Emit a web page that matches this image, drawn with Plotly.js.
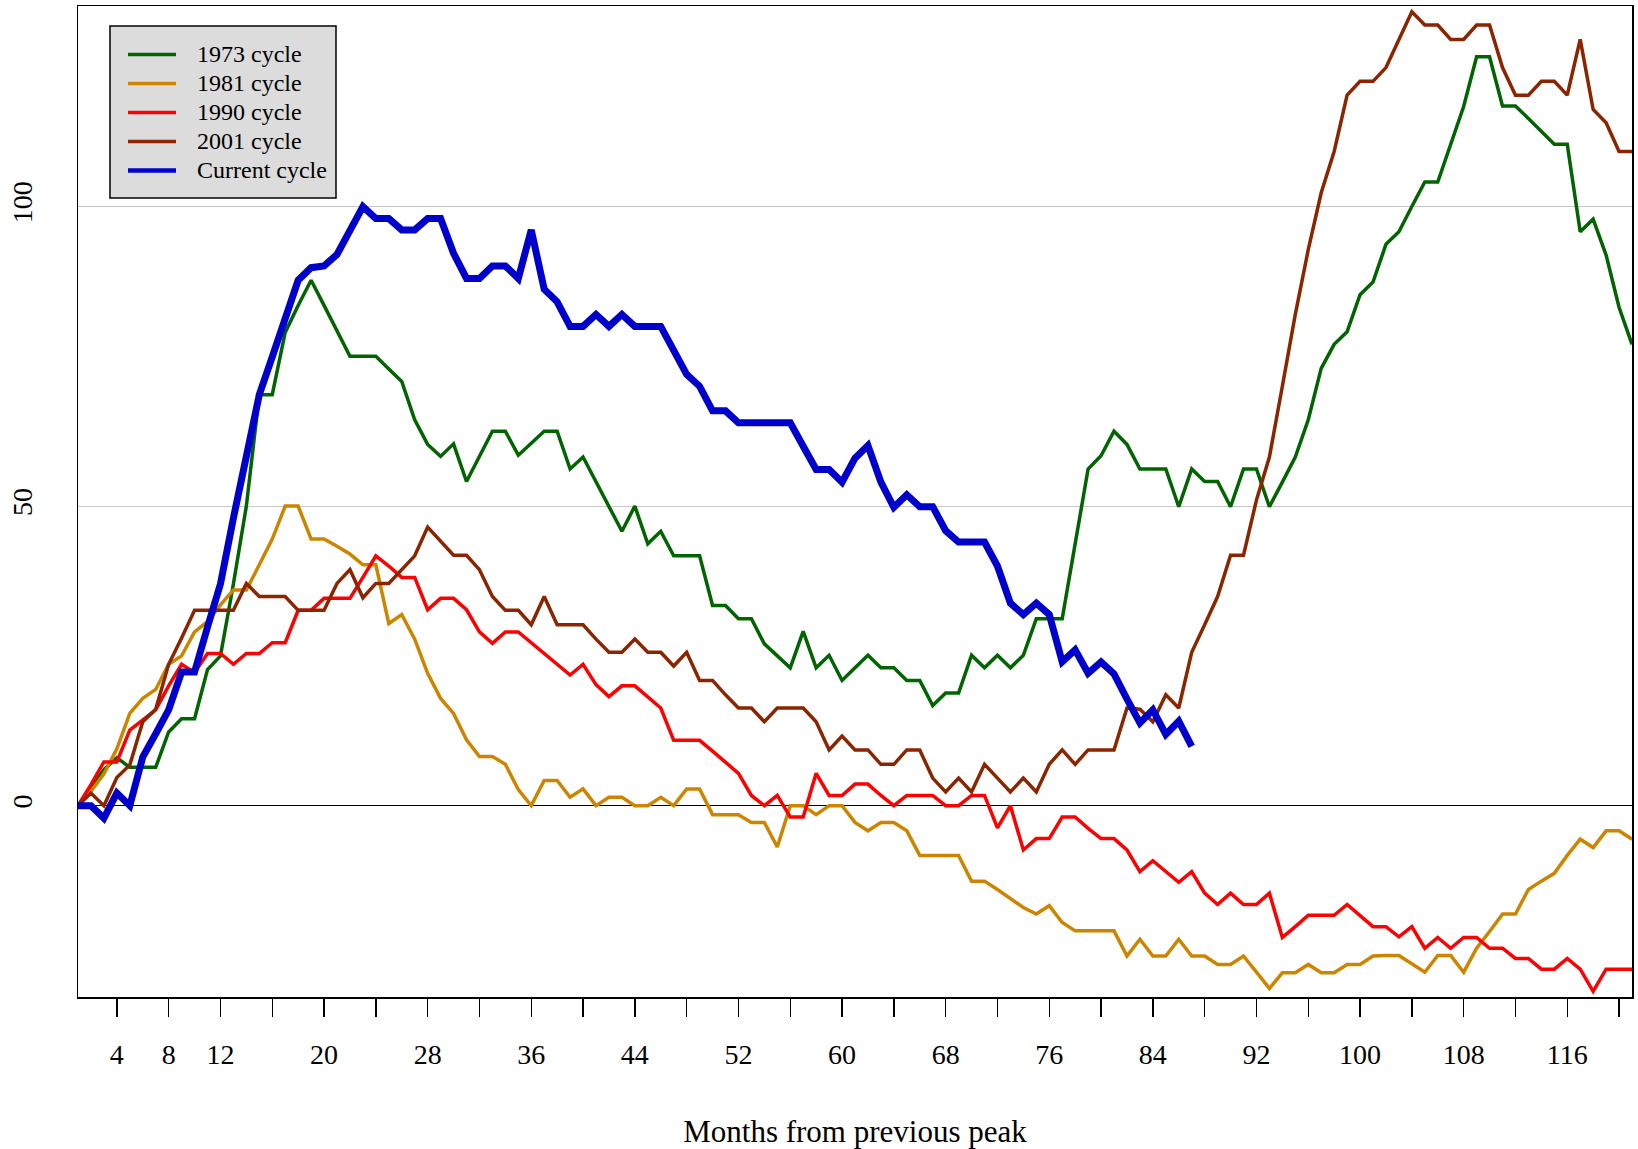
<!DOCTYPE html>
<html>
<head>
<meta charset="utf-8">
<script src="https://cdn.plot.ly/plotly-3.0.1.min.js"></script>
<style>
  html, body { margin: 0; padding: 0; background: #ffffff; }
  #chart { width: 1638px; height: 1149px; }
</style>
</head>
<body>
<div id="chart"></div>
<script>
// ---- Data (months from previous peak, index values) ----
const seriesNames = ["1973 cycle", "1981 cycle", "1990 cycle", "2001 cycle", "Current cycle"];

const cycle1973 = [0, 3, 6, 8, 6.4, 6.4, 6.4, 12.3, 14.5, 14.5,
  22.7, 25, 37, 50, 68.6, 68.6, 79, 83.5, 87.7, 83.5,
  79.3, 75, 75, 75, 72.9, 70.8, 64.4, 60.3, 58.3, 60.4,
  54.1, 58.3, 62.5, 62.5, 58.5, 60.5, 62.5, 62.5, 56.2, 58.2,
  54.1, 50, 45.8, 50, 43.7, 45.8, 41.7, 41.7, 41.7, 33.4,
  33.4, 31.2, 31.2, 27, 25, 23, 29.1, 23, 25.1, 20.9,
  23, 25.1, 23, 23, 20.9, 20.9, 16.7, 18.8, 18.8, 25.1,
  23, 25.1, 23, 25.1, 31.2, 31.2, 31.2, 43.7, 56.2, 58.4,
  62.5, 60.3, 56.2, 56.2, 56.2, 49.9, 56.2, 54.1, 54.1, 49.9,
  56.2, 56.2, 49.9, 54, 58.2, 64.4, 73, 77, 79.1, 85.3,
  87.4, 93.7, 95.8, 100, 104.1, 104.1, 110.4, 116.7, 125, 125,
  116.8, 116.8, 114.7, 112.5, 110.4, 110.4, 95.8, 97.9, 91.9, 83.2,
  77];

const cycle1981 = [0, 2.4, 5.3, 9.5, 15.4, 17.9, 19.4, 23.6, 25, 29,
  30.7, 33.5, 36, 36, 40.2, 44.5, 50, 50, 44.5, 44.5,
  43.3, 42, 40.2, 40.2, 30.4, 31.9, 27.8, 22.1, 17.9, 15.4,
  11, 8.2, 8.2, 6.9, 2.7, 0, 4.2, 4.2, 1.4, 2.8,
  0, 1.4, 1.4, 0, 0, 1.4, 0, 2.8, 2.8, -1.5,
  -1.5, -1.5, -2.8, -2.8, -6.9, 0, 0, -1.5, 0, 0,
  -2.8, -4.2, -2.8, -2.8, -4.2, -8.3, -8.3, -8.3, -8.3, -12.6,
  -12.6, -14, -15.5, -17, -18.1, -16.7, -19.5, -20.9, -20.9, -20.9,
  -20.9, -25.1, -22.3, -25.1, -25.1, -22.3, -25.1, -25.1, -26.5, -26.5,
  -25.1, -27.8, -30.5, -27.9, -27.9, -26.5, -27.9, -27.9, -26.5, -26.5,
  -25.1, -25, -25, -26.4, -27.8, -25, -25, -27.8, -23.8, -21,
  -18.1, -18.1, -14, -12.6, -11.3, -8.3, -5.6, -7, -4.2, -4.2,
  -5.6];

const cycle1990 = [0, 3.5, 7.3, 7.3, 12.6, 14.3, 16, 20, 23.6, 22.2,
  25.4, 25.4, 23.6, 25.4, 25.4, 27.2, 27.2, 32.6, 32.6, 34.6,
  34.6, 34.6, 38.1, 41.7, 40, 38.1, 38.1, 32.7, 34.6, 34.6,
  32.7, 29, 27.1, 29, 29, 27.2, 25.4, 23.6, 21.8, 23.6,
  20.2, 18.2, 20, 20, 18.2, 16.3, 10.9, 10.9, 10.9, 9.1,
  7.2, 5.4, 1.7, 0, 1.7, -1.9, -1.9, 5.4, 1.7, 1.7,
  3.6, 3.6, 1.7, 0, 1.7, 1.7, 1.7, 0, 0, 1.7,
  1.7, -3.7, 0, -7.4, -5.5, -5.5, -1.9, -1.9, -3.8, -5.5,
  -5.5, -7.4, -11, -9.2, -11, -12.8, -11, -14.6, -16.5, -14.6,
  -16.5, -16.5, -14.6, -22, -20.2, -18.3, -18.3, -18.3, -16.5, -18.3,
  -20.2, -20.2, -21.9, -20.2, -23.8, -22, -23.8, -22, -22, -23.8,
  -23.8, -25.5, -25.5, -27.3, -27.3, -25.5, -27.3, -31, -27.3, -27.3,
  -27.3];

const cycle2001 = [0, 2.1, 0, 4.7, 6.8, 14, 16.1, 23.6, 28, 32.6,
  32.6, 32.6, 32.6, 37.1, 34.9, 34.9, 34.9, 32.6, 32.6, 32.6,
  37.1, 39.4, 34.7, 37.1, 37.1, 39.4, 41.7, 46.5, 44.2, 41.8,
  41.8, 39.4, 34.9, 32.6, 32.6, 30.2, 34.9, 30.2, 30.2, 30.2,
  27.8, 25.6, 25.6, 27.8, 25.6, 25.6, 23.3, 25.6, 20.9, 20.9,
  18.5, 16.3, 16.3, 14, 16.3, 16.3, 16.3, 14, 9.3, 11.6,
  9.3, 9.3, 6.9, 6.9, 9.3, 9.3, 4.6, 2.3, 4.6, 2.3,
  6.9, 4.6, 2.3, 4.6, 2.3, 6.9, 9.3, 6.9, 9.3, 9.3,
  9.3, 16.3, 16.1, 14, 18.5, 16.3, 25.6, 30.2, 34.9, 41.8,
  41.8, 51, 58.2, 70, 82, 92.8, 102.3, 109.2, 118.6, 120.9,
  120.9, 123.2, 127.9, 132.5, 130.3, 130.3, 127.9, 127.9, 130.3, 130.3,
  123.2, 118.6, 118.6, 120.9, 120.9, 118.6, 127.9, 116.2, 114, 109.2,
  109.2];

const currentCycle = [0, 0, -2.1, 2.1, 0, 8.1, 12, 16, 22.3, 22.3,
  29.8, 37, 48, 58.5, 68.6, 74.9, 80.9, 87.7, 89.8, 90.1,
  92, 96, 100, 98, 98, 96.1, 96.1, 98, 98, 92.2,
  88, 88, 90.1, 90.1, 88, 96.1, 86.2, 84.1, 80, 80,
  82, 80, 82, 80, 80, 80, 76, 72, 70, 65.9,
  65.9, 63.9, 63.9, 63.9, 63.9, 63.9, 60, 56.1, 56.1, 54,
  58, 60.1, 54, 49.8, 51.9, 49.9, 49.9, 45.9, 44, 44,
  44, 40, 33.8, 31.9, 33.8, 31.9, 24, 26, 22.1, 24,
  22, 17.8, 13.8, 16, 11.9, 14.1, 9.9];

const xTickVals = [4, 8, 12, 16, 20, 24, 28, 32, 36, 40, 44, 48, 52, 56, 60,
  64, 68, 72, 76, 80, 84, 88, 92, 96, 100, 104, 108, 112, 116, 120];
const xTickText = ["4", "8", "12", "", "20", "", "28", "", "36", "", "44", "", "52", "", "60",
  "", "68", "", "76", "", "84", "", "92", "", "100", "", "108", "", "116", ""];
const yTickVals = [0, 50, 100];
const yTickText = ["0", "50", "100"];

// ---- Styling ----
const colors = ["#006400", "#CD8500", "#FF0000", "#8B2500", "#0000CD"];
const widths = [3.5, 3.5, 3.5, 3.5, 7];
const values = [cycle1973, cycle1981, cycle1990, cycle2001, currentCycle];

const traces = values.map((v, k) => ({
  type: "scatter",
  mode: "lines",
  name: seriesNames[k],
  x: v.map((_, i) => i + 1),
  y: v,
  line: { color: colors[k], width: widths[k] },
  hoverinfo: "x+y+name",
  showlegend: false
}));

const serif = "Liberation Serif, Times New Roman, serif";

// plot area in page pixels (for placing the boxed key)
const W = 1638, H = 1149;
const M = { l: 78, r: 6, t: 6, b: 152 };
const plotW = W - M.l - M.r, plotH = H - M.t - M.b;
const px = x => (x - M.l) / plotW;
const py = y => 1 - (y - M.t) / plotH;

// key (legend) drawn as a boxed key in the top-left corner
const keyBox = { left: 110, top: 26, right: 336, bottom: 198 };
const keyRows = [54.5, 83.5, 112.5, 141.5, 170.5];
const shapes = [{
  type: "rect", xref: "paper", yref: "paper", layer: "above",
  x0: px(keyBox.left), x1: px(keyBox.right), y0: py(keyBox.bottom), y1: py(keyBox.top),
  fillcolor: "#dcdcdc", line: { color: "#000000", width: 1.5 }
}];
const annotations = [];
seriesNames.forEach((name, k) => {
  shapes.push({
    type: "line", xref: "paper", yref: "paper", layer: "above",
    x0: px(128), x1: px(176), y0: py(keyRows[k]), y1: py(keyRows[k]),
    line: { color: colors[k], width: k === 4 ? 4.5 : 3.5 }
  });
  annotations.push({
    xref: "paper", yref: "paper", x: px(195), y: py(keyRows[k]),
    xanchor: "left", yanchor: "middle", showarrow: false,
    text: name, font: { family: serif, size: 24, color: "#000000" }
  });
});

const layout = {
  width: W,
  height: H,
  paper_bgcolor: "#ffffff",
  plot_bgcolor: "#ffffff",
  margin: { l: M.l, r: M.r, t: M.t, b: M.b, pad: 0 },
  font: { family: serif, color: "#000000" },
  showlegend: false,
  shapes: shapes,
  annotations: annotations,
  xaxis: {
    range: [1, 121],
    tickmode: "array",
    tickvals: xTickVals,
    ticktext: xTickText,
    ticks: "outside",
    ticklen: 18,
    tickwidth: 1.5,
    tickcolor: "#000000",
    showline: true,
    mirror: true,
    linecolor: "#000000",
    linewidth: 1.5,
    showgrid: false,
    zeroline: false,
    automargin: false,
    ticklabelstandoff: 14,
    tickfont: { family: serif, size: 28, color: "#000000" },
    title: { text: "Months from previous peak", font: { family: serif, size: 31, color: "#000000" }, standoff: 53 }
  },
  yaxis: {
    range: [-31.94, 133.48],
    tickmode: "array",
    tickvals: yTickVals,
    ticktext: yTickText,
    ticks: "",
    tickangle: -90,
    showline: true,
    mirror: true,
    linecolor: "#000000",
    linewidth: 1.5,
    showgrid: true,
    gridcolor: "#c8c8c8",
    gridwidth: 1,
    zeroline: true,
    zerolinecolor: "#000000",
    zerolinewidth: 1.5,
    automargin: false,
    ticklabelstandoff: 33,
    tickfont: { family: serif, size: 28, color: "#000000" }
  }
};

Plotly.newPlot("chart", traces, layout, { displayModeBar: false, staticPlot: true });
</script>
</body>
</html>
